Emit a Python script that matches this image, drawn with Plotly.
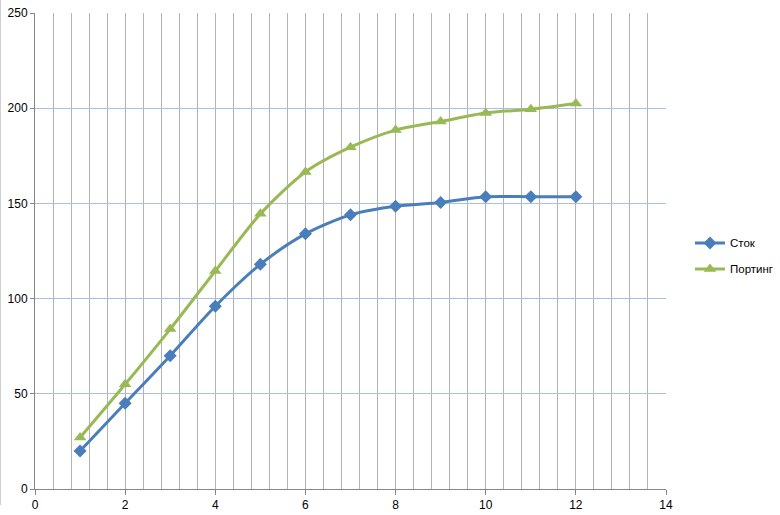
import plotly.graph_objects as go

x_vals = [1, 2, 3, 4, 5, 6, 7, 8, 9, 10, 11, 12]
stock = [20, 45, 70, 96, 118, 134, 144, 148.5, 150.5, 153.5, 153.5, 153.5]
porting = [27, 55, 84, 114.5, 144.5, 166.5, 179.5, 188.5, 193, 197.5, 199.5, 202.5]
names = ["Сток", "Портинг"]

blue = "#4a7ebb"
green = "#98b954"

fig = go.Figure()
fig.add_trace(go.Scatter(
    x=x_vals, y=stock, name=names[0], mode="lines+markers", legendgroup="a",
    line=dict(color=blue, width=3, shape="spline", smoothing=0.8),
    marker=dict(symbol="diamond", size=10, color=blue),
))
fig.add_trace(go.Scatter(
    x=x_vals, y=porting, name=names[1], mode="lines+markers", legendgroup="b",
    line=dict(color=green, width=3, shape="spline", smoothing=0.8),
    marker=dict(symbol="triangle-up", size=11, color=green),
))

fig.update_layout(
    width=780, height=515,
    margin=dict(l=35, r=114, t=13, b=26, autoexpand=False),
    paper_bgcolor="white", plot_bgcolor="white",
    font=dict(family="Liberation Sans, Arial, sans-serif", size=12, color="#000000"),
    showlegend=True,
    legend=dict(x=1.038, y=0.4895, xanchor="left", yanchor="middle",
                font=dict(size=11.5), traceorder="grouped", tracegroupgap=7,
                itemwidth=30, bgcolor="rgba(0,0,0,0)"),
    xaxis=dict(
        range=[0, 14], dtick=2, tick0=0, automargin=False,
        showgrid=True, gridcolor="#b3b3b3", gridwidth=1,
        minor=dict(dtick=0.4, tick0=0, showgrid=True, gridcolor="#b3b3b3", gridwidth=1),
        showline=True, linecolor="#868686", linewidth=1,
        ticks="outside", ticklen=5, tickcolor="#868686",
        zeroline=False, fixedrange=True,
    ),
    yaxis=dict(
        range=[0, 250], dtick=50, tick0=0, automargin=False,
        showgrid=True, gridcolor="#a9bfe6", gridwidth=1,
        showline=True, linecolor="#868686", linewidth=1,
        ticks="outside", ticklen=4, tickcolor="#868686",
        zeroline=False, fixedrange=True,
    ),
    shapes=[dict(type="line", xref="paper", yref="paper",
                 x0=-34.5/631, x1=-34.5/631, y0=1 + 13/476, y1=-16/476,
                 line=dict(color="#d0d0d0", width=1))],
)

fig.write_html("out.html", config={"displayModeBar": False},
               post_script="document.body.style.margin='0';")
